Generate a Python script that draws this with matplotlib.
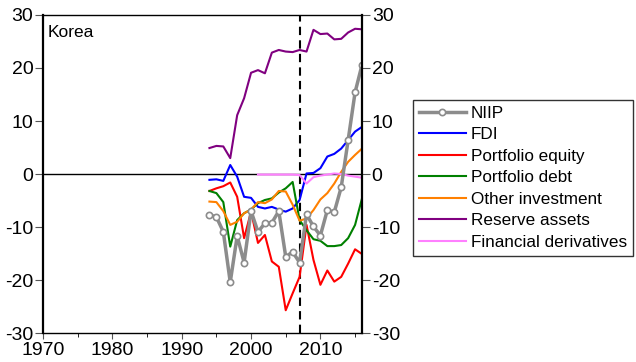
import numpy as np
import matplotlib.pyplot as plt
from matplotlib.ticker import MultipleLocator

plt.rcParams['font.family'] = ['Liberation Sans', 'DejaVu Sans']
plt.rcParams['axes.unicode_minus'] = False

years = list(range(1994, 2017))
niip = [-7.7, -8.1, -10.9, -20.4, -11.7, -16.7, -7.0, -10.9, -9.3, -9.2, -7.0, -15.6,
        -14.7, -16.7, -7.6, -9.9, -11.6, -6.8, -7.2, -2.5, 6.4, 15.4, 20.6]
fdi = [-1.1, -1.0, -1.3, 1.7, -0.5, -4.3, -4.5, -6.2, -6.5, -6.2, -6.7, -7.1,
       -6.5, -4.9, 0.1, 0.2, 1.1, 3.3, 3.8, 4.8, 6.4, 8.0, 8.9]
port_eq = [-3.2, -2.7, -2.3, -1.6, -4.3, -12.1, -7.1, -13.0, -11.5, -16.5, -17.5, -25.7,
           -22.5, -19.4, -9.6, -16.2, -20.9, -18.2, -20.3, -19.4, -16.9, -14.2, -15.1]
port_debt = [-3.2, -3.6, -5.3, -13.7, -8.7, -7.4, -6.7, -5.5, -4.9, -4.6, -3.5, -2.7,
             -1.5, -8.7, -10.6, -12.3, -12.6, -13.6, -13.6, -13.4, -12.1, -9.6, -4.6]
other_inv = [-5.2, -5.3, -7.0, -9.6, -9.0, -7.4, -6.7, -5.3, -5.5, -4.8, -3.2, -3.3,
             -5.8, -8.8, -8.4, -6.8, -4.8, -3.6, -1.8, 0.4, 2.3, 3.6, 4.8]
reserves = [4.9, 5.3, 5.2, 3.0, 11.1, 14.3, 19.1, 19.6, 19.0, 22.9, 23.4, 23.1,
            23.0, 23.4, 23.1, 27.2, 26.4, 26.5, 25.4, 25.5, 26.7, 27.4, 27.3]
deriv_years = list(range(2001, 2017))
derivs = [-0.1, -0.1, -0.1, -0.1, -0.1, -0.1, -0.2, -1.8, -0.6, -0.3, -0.1, 0.1,
          0.0, -0.3, -0.5, -0.7]

fig = plt.figure(figsize=(6.36, 3.62), dpi=100)
ax = fig.add_axes([0.0676, 0.080, 0.5016, 0.8786])

ax.axhline(0, color='black', lw=1)
ax.axvline(2007, color='black', lw=1.5, ls=(0, (4, 2.5)))

ax.plot(years, niip, color='#8c8c8c', lw=2.5, marker='o', ms=4.5,
        mfc='white', mec='#8c8c8c', mew=1.2, label='NIIP', zorder=5)
ax.plot(years, fdi, color='#0000ff', lw=1.5, label='FDI')
ax.plot(years, port_eq, color='#ff0000', lw=1.5, label='Portfolio equity')
ax.plot(years, port_debt, color='#008000', lw=1.5, label='Portfolio debt')
ax.plot(years, other_inv, color='#ff8000', lw=1.5, label='Other investment')
ax.plot(years, reserves, color='#800080', lw=1.5, label='Reserve assets')
ax.plot(deriv_years, derivs, color='#ff80ff', lw=1.5, label='Financial derivatives')

ax.set_xlim(1970, 2016)
ax.set_ylim(-30, 30)
ax.xaxis.set_major_locator(MultipleLocator(10))
ax.xaxis.set_minor_locator(MultipleLocator(5))
ax.yaxis.set_major_locator(MultipleLocator(10))
ax.tick_params(axis='both', labelsize=14, direction='out', color='#555555', width=0.8)
ax.tick_params(axis='y', length=6, pad=1)
ax.tick_params(axis='x', which='major', length=4, pad=2.5)
ax.tick_params(axis='x', which='minor', length=3)
ax.spines['left'].set_linewidth(1.6)
ax.spines['right'].set_visible(False)
ax.spines['top'].set_linewidth(1)
ax.spines['bottom'].set_linewidth(1)

ax2 = ax.twinx()
ax2.set_ylim(-30, 30)
ax2.yaxis.set_major_locator(MultipleLocator(10))
ax2.tick_params(axis='y', labelsize=14, direction='out', length=6, pad=1,
                color='#555555', width=0.8)
for side in ['left', 'top', 'bottom']:
    ax2.spines[side].set_visible(False)
ax2.spines['right'].set_linewidth(1.6)

ax.text(0.015, 0.97, 'Korea', transform=ax.transAxes, fontsize=12.5, va='top')

leg = fig.legend(loc='upper left', bbox_to_anchor=(0.649, 0.724), borderaxespad=0,
                 fontsize=12.3, frameon=True, fancybox=False, handlelength=2.75,
                 labelspacing=0.38, handletextpad=0.3, borderpad=0.35)
leg.get_frame().set_edgecolor('black')
leg.get_frame().set_linewidth(1)

fig.savefig('out.png', dpi=100)
